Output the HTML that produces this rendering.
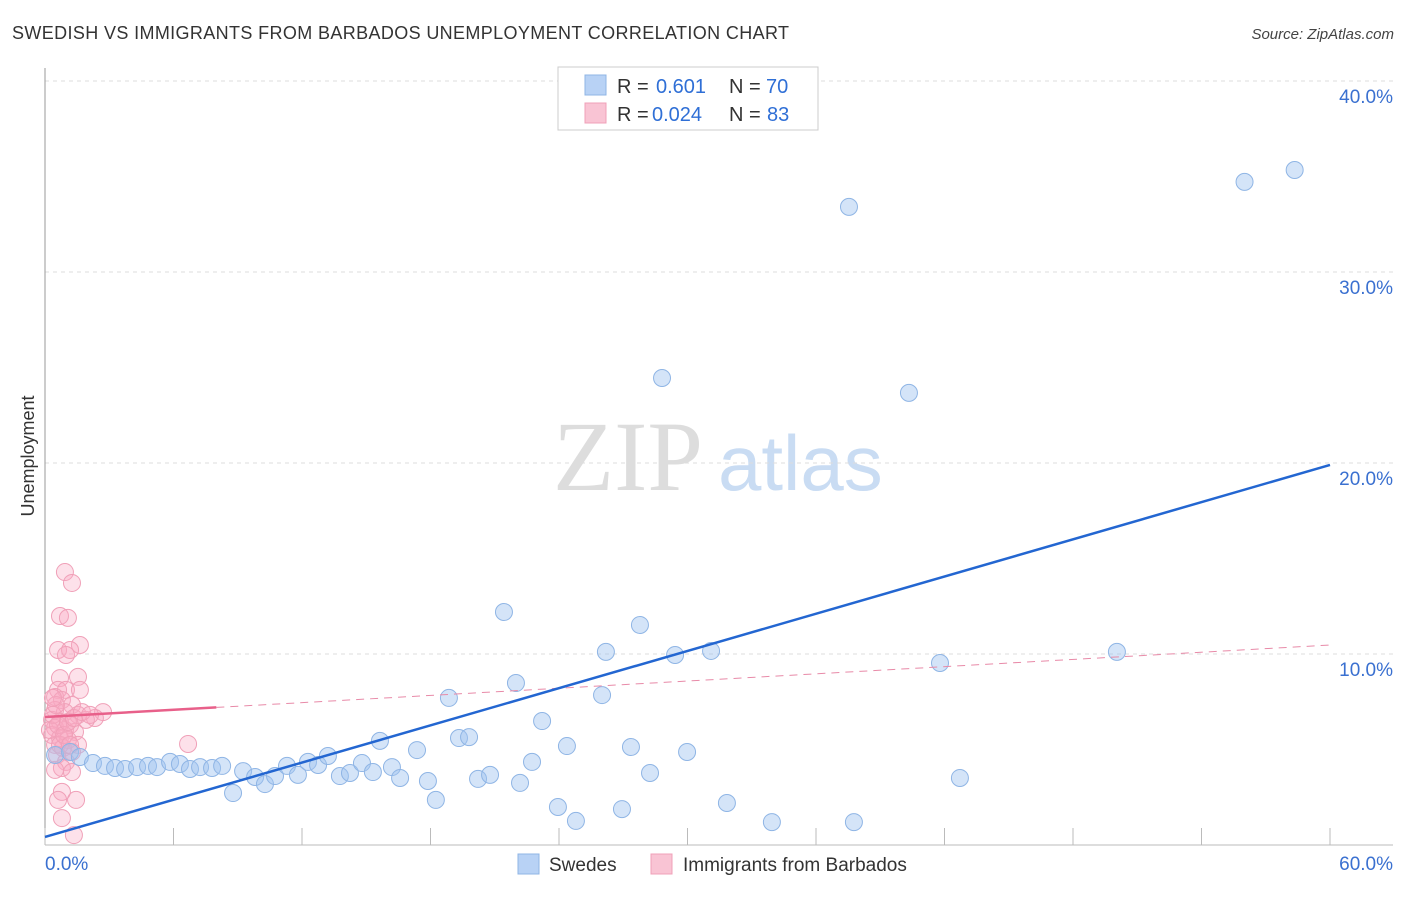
<!DOCTYPE html>
<html><head><meta charset="utf-8"><style>
body{margin:0;background:#fff;font-family:"Liberation Sans",sans-serif;}
svg text{font-family:"Liberation Sans",sans-serif;}
</style></head><body>
<svg id="chart" width="1406" height="892" xmlns="http://www.w3.org/2000/svg">
<text x="12" y="39" font-size="18" textLength="777" fill="#333">SWEDISH VS IMMIGRANTS FROM BARBADOS UNEMPLOYMENT CORRELATION CHART</text>
<text x="1394" y="39" font-size="15" font-style="italic" fill="#444" text-anchor="end">Source: ZipAtlas.com</text>
<g>
<text x="553" y="490" font-size="100" style="font-family:'Liberation Serif',serif" fill="#ddd">ZIP</text>
<text x="718" y="490" font-size="78" fill="#c9dcf3">atlas</text>
</g>
<text transform="translate(34,456) rotate(-90)" font-size="18" fill="#333" text-anchor="middle">Unemployment</text>
<g id="grid"></g>
<g id="axes"></g>
<g id="marks"></g>
<g>
<rect x="558" y="67" width="260" height="63" fill="#fff" stroke="#ccc"/>
<rect x="585" y="75" width="21" height="20" fill="#b8d2f5" stroke="#8fb5e5"/>
<rect x="585" y="103" width="21" height="20" fill="#f9c4d4" stroke="#f0a0b8"/>
<text x="617" y="93" font-size="20" fill="#333">R =</text>
<text x="656" y="93" font-size="20" fill="#2f6fd6">0.601</text>
<text x="729" y="93" font-size="20" fill="#333">N =</text>
<text x="766" y="93" font-size="20" fill="#2f6fd6">70</text>
<text x="617" y="121" font-size="20" fill="#333">R =</text>
<text x="652" y="121" font-size="20" fill="#2f6fd6">0.024</text>
<text x="729" y="121" font-size="20" fill="#333">N =</text>
<text x="767" y="121" font-size="20" fill="#2f6fd6">83</text>
</g>
<g>
<rect x="518" y="854" width="21" height="20" fill="#b8d2f5" stroke="#8fb5e5"/>
<text x="549" y="871" font-size="19" fill="#333">Swedes</text>
<rect x="651" y="854" width="21" height="20" fill="#f9c4d4" stroke="#f0a0b8"/>
<text x="683" y="871" font-size="19" fill="#333">Immigrants from Barbados</text>
</g>
</svg>
<script>
const yTicks=[10,20,30,40];
const yTickLabels=["10.0%","20.0%","30.0%","40.0%"];
const xTickLabels=["0.0%","60.0%"];
const blueX=[0.47,1.17,1.63,2.24,2.80,3.27,3.74,4.30,4.81,5.23,5.84,6.30,6.77,7.24,7.80,8.27,8.78,9.25,9.81,10.27,10.74,11.30,11.81,12.28,12.75,13.21,13.77,14.24,14.80,15.31,15.64,16.20,16.58,17.37,17.88,18.25,18.86,19.33,19.80,20.22,20.78,21.43,21.99,22.18,22.74,23.21,23.95,24.37,24.79,26.01,26.19,26.94,27.36,27.78,28.25,28.81,29.42,29.98,31.10,31.84,33.94,37.54,37.77,40.34,41.79,42.72,50.05,56.01,58.35];
const blueY=[4.71,4.87,4.61,4.29,4.14,4.03,3.98,4.08,4.14,4.08,4.35,4.24,3.98,4.08,4.03,4.14,2.72,3.87,3.56,3.19,3.61,4.14,3.67,4.35,4.19,4.66,3.61,3.77,4.29,3.82,5.45,4.08,3.51,4.97,3.35,2.36,7.70,5.60,5.65,3.46,3.67,12.20,8.48,3.25,4.35,6.49,1.99,5.18,1.26,7.85,10.11,1.88,5.13,11.52,3.77,24.45,9.95,4.87,10.16,2.20,1.20,33.41,1.20,23.67,9.53,3.51,10.11,34.72,35.34];
const pinkX=[0.93,1.26,0.70,1.07,1.63,0.61,1.17,0.98,1.54,0.70,0.61,0.98,1.63,0.47,0.79,1.26,2.71,0.47,0.93,1.54,2.33,1.91,0.33,0.70,1.17,0.47,0.93,1.40,0.33,0.70,1.07,1.54,0.47,0.84,1.26,0.56,0.98,0.79,0.47,1.26,0.79,0.61,1.45,0.79,1.35,6.68,0.23,0.37,0.51,0.61,0.70,0.89,1.07,1.17,1.35,1.73,2.10,0.37];
const pinkY=[14.29,13.72,11.99,11.89,10.47,10.21,10.21,9.95,8.80,8.74,8.12,8.12,8.12,7.75,7.59,7.33,6.96,7.07,6.96,6.81,6.65,6.55,6.55,6.44,6.28,6.13,6.02,5.92,5.76,5.60,5.50,5.24,5.24,5.08,4.87,4.71,4.35,4.03,3.93,3.82,2.78,2.36,2.36,1.41,0.52,5.29,6.02,6.81,7.33,6.28,5.24,5.76,6.44,5.24,6.65,6.96,6.81,7.70];
const blueTrend=[0.42,19.9];
const pinkTrend=[6.7,10.47];
const pinkSolidEnd=8;

const NS="http://www.w3.org/2000/svg";
const X0=45,X1=1330,Y0=845,PPY=19.1;
const sx=v=>X0+v/60*(X1-X0);
const sy=v=>Y0-v*PPY;
function mk(tag,attrs,parent){const e=document.createElementNS(NS,tag);for(const k in attrs)e.setAttribute(k,attrs[k]);parent.appendChild(e);return e;}
const grid=document.getElementById('grid'),axes=document.getElementById('axes'),marks=document.getElementById('marks');
yTicks.forEach((t,i)=>{
 const l=mk('line',{x1:45,x2:1393,y1:sy(t),y2:sy(t),stroke:'#ddd','stroke-dasharray':'4,4'},grid);
 
 
 const tx=mk('text',{x:1393,y:sy(t)+22,'font-size':19,fill:'#3a70d0','text-anchor':'end'},axes);
 tx.textContent=yTickLabels[i];
 
 
});
mk('line',{x1:45,x2:45,y1:68,y2:845,stroke:'#999'},axes);
mk('line',{x1:45,x2:1393,y1:845,y2:845,stroke:'#bbb'},axes);
for(let i=0;i<=10;i++){mk('line',{x1:sx(i*6),x2:sx(i*6),y1:828,y2:845,stroke:'#bbb'},axes);}
const xl0=mk('text',{x:45,y:870,'font-size':19,fill:'#3a70d0'},axes);xl0.textContent=xTickLabels[0];


const xl1=mk('text',{x:1393,y:870,'font-size':19,fill:'#3a70d0','text-anchor':'end'},axes);xl1.textContent=xTickLabels[1];


pinkX.forEach((x,i)=>{
 const c=mk('circle',{cx:sx(x),cy:sy(pinkY[i]),r:8.5,fill:'rgba(248,170,195,0.35)',stroke:'#f0a0b8','stroke-width':1},marks);
 
 
});
blueX.forEach((x,i)=>{
 const c=mk('circle',{cx:sx(x),cy:sy(blueY[i]),r:8.5,fill:'rgba(160,196,240,0.45)',stroke:'#8fb5e5','stroke-width':1},marks);
 
 
});
const pAt=x=>pinkTrend[0]+(pinkTrend[1]-pinkTrend[0])*x/60;
const pd=mk('line',{x1:sx(pinkSolidEnd),y1:sy(pAt(pinkSolidEnd)),x2:sx(60),y2:sy(pinkTrend[1]),stroke:'#e88aa8','stroke-width':1,'stroke-dasharray':'8,6'},marks);


const ps=mk('line',{x1:sx(0),y1:sy(pinkTrend[0]),x2:sx(pinkSolidEnd),y2:sy(pAt(pinkSolidEnd)),stroke:'#e8608a','stroke-width':2.5},marks);


const bl=mk('line',{x1:sx(0),y1:sy(blueTrend[0]),x2:sx(60),y2:sy(blueTrend[1]),stroke:'#2366d1','stroke-width':2.5},marks);


</script>
</body></html>
